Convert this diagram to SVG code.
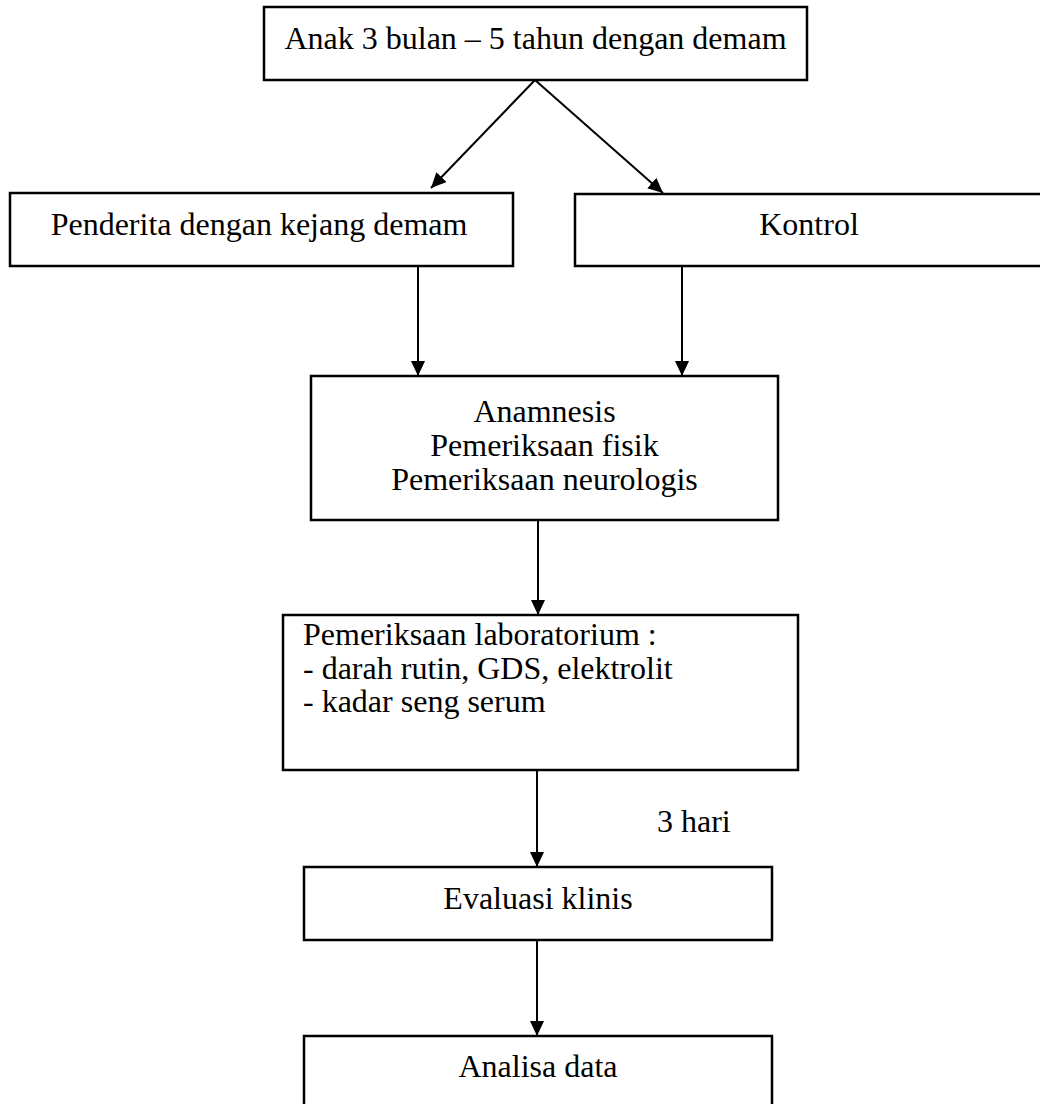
<svg xmlns="http://www.w3.org/2000/svg" width="1040" height="1104" viewBox="0 0 1040 1104">
<style>
.box{fill:#fff;stroke:#000;stroke-width:2.5}
.t{font-family:"Liberation Serif","Times New Roman",serif;font-size:32px;fill:#000}
.c{text-anchor:middle}
.ln{stroke:#000;stroke-width:2;fill:none;marker-end:url(#ah)}
</style>
<defs>
<marker id="ah" markerUnits="userSpaceOnUse" markerWidth="16" markerHeight="16" refX="15" refY="7" orient="auto">
<path d="M0,0 L15,7 L0,14 Z" fill="#000"/>
</marker>
</defs>
<rect width="1040" height="1104" fill="#fff"/>
<g id="connectors">
<line class="ln" x1="535" y1="80" x2="431" y2="188"/>
<line class="ln" x1="535" y1="80" x2="663" y2="193"/>
<line class="ln" x1="418" y1="266" x2="418" y2="376"/>
<line class="ln" x1="682" y1="266" x2="682" y2="376"/>
<line class="ln" x1="538" y1="520" x2="538" y2="615"/>
<line class="ln" x1="537" y1="770" x2="537" y2="867"/>
<line class="ln" x1="537" y1="940" x2="537" y2="1036"/>
</g>
<g id="n1">
<rect class="box" x="264" y="7" width="543" height="73"/>
<text class="t c" x="535.5" y="49">Anak 3 bulan – 5 tahun dengan demam</text>
</g>
<g id="n2">
<rect class="box" x="10" y="193" width="503" height="73"/>
<text class="t c" x="259" y="235">Penderita dengan kejang demam</text>
</g>
<g id="n3">
<rect class="box" x="575" y="194" width="470" height="72"/>
<text class="t c" x="809" y="235">Kontrol</text>
</g>
<g id="n4">
<rect class="box" x="311" y="376" width="467" height="144"/>
<text class="t c" x="544.5" y="422">Anamnesis</text>
<text class="t c" x="544.5" y="456">Pemeriksaan fisik</text>
<text class="t c" x="544.5" y="490">Pemeriksaan neurologis</text>
</g>
<g id="n5">
<rect class="box" x="283" y="615" width="515" height="155"/>
<text class="t" x="303" y="645">Pemeriksaan laboratorium :</text>
<text class="t" x="303" y="679">- darah rutin, GDS, elektrolit</text>
<text class="t" x="303" y="712">- kadar seng serum</text>
</g>
<text id="lbl" class="t" x="657" y="832">3 hari</text>
<g id="n6">
<rect class="box" x="304" y="867" width="468" height="73"/>
<text class="t c" x="538" y="909">Evaluasi klinis</text>
</g>
<g id="n7">
<rect class="box" x="304" y="1036" width="468" height="80"/>
<text class="t c" x="538" y="1077">Analisa data</text>
</g>
</svg>
